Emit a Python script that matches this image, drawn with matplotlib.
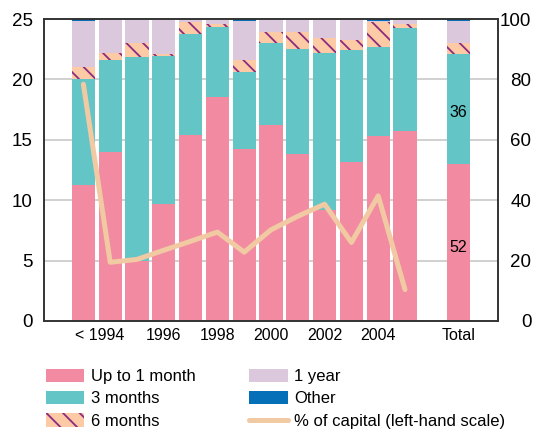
import matplotlib
matplotlib.use("Agg")
import matplotlib.pyplot as plt
from matplotlib.patches import Patch
from matplotlib.lines import Line2D
import numpy as np

plt.rcParams['font.family'] = ['Liberation Sans', 'DejaVu Sans']
plt.rcParams['hatch.linewidth'] = 1.3
plt.rcParams['hatch.color'] = '#8e2a7f'

# bar positions: 13 years, gap, Total
positions = list(range(13)) + [14]
tick_pos = [0.62, 3, 5, 7, 9, 11, 14]
tick_labels = ['< 1994', '1996', '1998', '2000', '2002', '2004', 'Total']

# shares of maturity (% , right-hand scale)
up_to_1m = [44.9, 56.1, 19.8, 38.7, 61.7, 74.3, 57.0, 64.8, 55.4, 36.7, 52.8, 61.3, 62.8, 52.1]
three_m = [35.1, 30.2, 67.5, 49.0, 33.3, 23.1, 25.3, 27.2, 34.6, 52.0, 36.9, 29.4, 34.2, 36.2]
six_m = [4.2, 2.5, 4.7, 0.6, 4.1, 0.8, 4.0, 3.7, 5.6, 5.0, 3.3, 8.4, 1.3, 3.8]
one_year = [15.3, 11.2, 8.0, 11.7, 0.9, 1.8, 13.2, 4.3, 4.4, 6.3, 7.0, 0.4, 1.7, 7.4]
other = [0.5, 0, 0, 0, 0, 0, 0.5, 0, 0, 0, 0, 0.5, 0, 0.5]

# % of capital (left-hand scale)
capital = [19.6, 4.86, 5.1, 5.86, 6.6, 7.36, 5.7, 7.55, 8.67, 9.67, 6.5, 10.36, 2.6]

pink = '#f28ba1'
teal = '#63c5c6'
peach = '#fccaa5'
lilac = '#dcc8dc'
blue = '#0570b8'
tan = '#f1c9a2'

fig = plt.figure(figsize=(5.36, 4.30), dpi=100)
ax = fig.add_axes([0.0821, 0.2535, 0.847, 0.7023])
ax2 = ax.twinx()

w = 0.86
bottom = np.zeros(len(positions))
for vals, col, hatch in [(up_to_1m, pink, None), (three_m, teal, None),
                         (six_m, peach, '\\\\'), (one_year, lilac, None),
                         (other, blue, None)]:
    ax.bar(positions, vals, width=w, bottom=bottom, color=col, hatch=hatch,
           linewidth=0, zorder=2)
    bottom += np.array(vals)

ax.text(14, 24.3, '52', ha='center', va='center', fontsize=11.5)
ax.text(14, 69, '36', ha='center', va='center', fontsize=11.5)

ax2.plot(range(13), capital, color=tan, lw=3.6, solid_capstyle='round',
         solid_joinstyle='round', zorder=5)

ax.set_xlim(-1.47, 15.47)
ax.set_ylim(0, 100)
ax2.set_ylim(0, 25)
ax.set_yticks([0, 20, 40, 60, 80, 100])
ax2.set_yticks([0, 5, 10, 15, 20, 25])
ax.yaxis.tick_right()
ax2.yaxis.tick_left()
ax.set_xticks(tick_pos)
ax.set_xticklabels(tick_labels, fontsize=11.5)

ax.grid(axis='y', color='#c8c8c8', lw=1.2, zorder=0)
ax.set_axisbelow(True)

ax.tick_params(axis='y', length=0, labelsize=13.5, pad=24)
for lab in ax.get_yticklabels():
    lab.set_ha('right')
ax2.tick_params(axis='y', length=0, labelsize=13.5, pad=8)
ax.tick_params(axis='x', length=0, pad=5)
for a in (ax, ax2):
    for s in a.spines.values():
        s.set_color('#333333')
        s.set_linewidth(1.2)

handles = [Patch(facecolor=pink, label='Up to 1 month'),
           Patch(facecolor=teal, label='3 months'),
           Patch(facecolor=peach, hatch='\\\\', label='6 months'),
           Patch(facecolor=lilac, label='1 year'),
           Patch(facecolor=blue, label='Other'),
           Line2D([], [], color=tan, lw=3.6, solid_capstyle='round',
                  label='% of capital (left-hand scale)')]
fig.legend(handles=handles, ncol=2, loc='upper left', bbox_to_anchor=(0.086, 0.143),
           frameon=False, fontsize=12, handlelength=2.3, handleheight=0.85,
           handletextpad=0.4, columnspacing=3.2, labelspacing=0.42,
           borderaxespad=0, borderpad=0)

fig.savefig('out.png', dpi=100)
